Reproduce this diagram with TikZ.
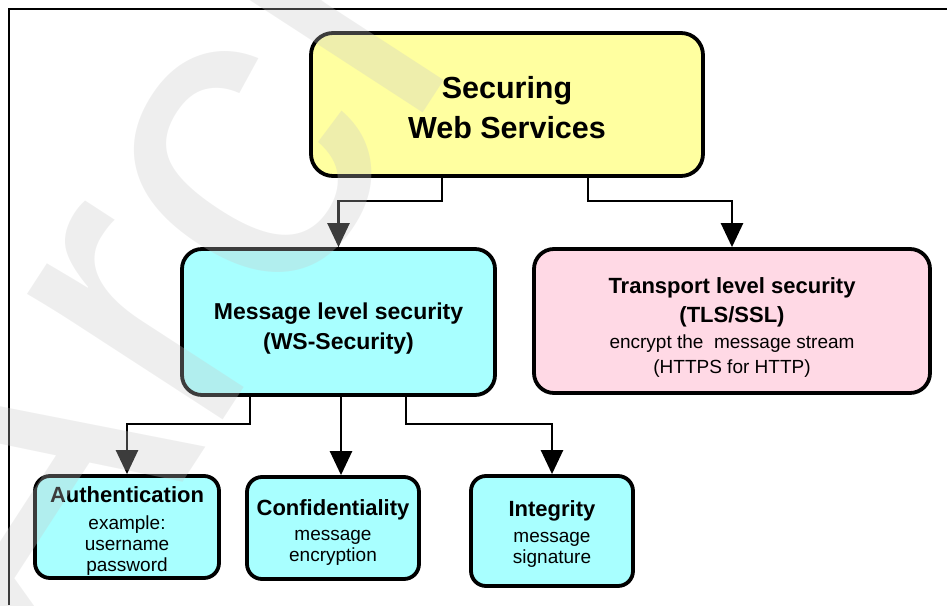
\documentclass[tikz,border=0pt]{standalone}
\usepackage{fontspec}
\setmainfont{Liberation Sans}
\usetikzlibrary{arrows.meta}

\definecolor{boxyellow}{RGB}{255,255,160}
\definecolor{boxcyan}{RGB}{168,255,255}
\definecolor{boxpink}{RGB}{255,217,229}
\definecolor{markgray}{RGB}{200,200,200}

% strut that pushes the first line of a box down
\newcommand{\padtop}[1]{\rule{0pt}{#1}}

\begin{document}
\begin{tikzpicture}[
    x=1pt, y=-1pt,
    box/.style={draw, line width=3.8pt, align=center, inner sep=0pt},
    link/.style={line width=2.5pt, -{Triangle[width=22pt,length=24pt]}},
    big/.style={font=\bfseries\fontsize{23}{30}\selectfont},
    small/.style={font=\fontsize{19}{21}\selectfont}
]
\useasboundingbox (0,0) rectangle (947,605);

% Frame, only the top and left edges are in view
\draw[line width=1.5pt] (9,605) -- (9,9) -- (947,9);

% Top box
\node[box, fill=boxyellow, rounded corners=22pt, minimum width=392pt, minimum height=143pt,
      font=\bfseries\fontsize{30.5}{40}\selectfont] (secure) at (507,104.5) {\padtop{28pt}Securing\\Web Services};

% Second row: the two levels
\node[box, big, fill=boxcyan, rounded corners=20pt, minimum width=313pt, minimum height=146pt]
    (msg) at (338.5,322) {\padtop{29pt}Message level security\\(WS-Security)};
\node[box, small, fill=boxpink, rounded corners=20pt, minimum width=396pt, minimum height=144pt]
    (trans) at (732,321) {{\bfseries\fontsize{22}{29}\selectfont\padtop{28pt}Transport level security}\\[8pt]
    {\bfseries\fontsize{22}{29}\selectfont (TLS/SSL)}\\[5pt]
    encrypt the\ \ message stream\\[4pt]
    (HTTPS for HTTP)};

% Third row: what message level security gives
\node[box, small, fill=boxcyan, rounded corners=15pt, minimum width=184pt, minimum height=102pt]
    (auth) at (127,527) {{\bfseries\fontsize{22}{27}\selectfont\padtop{24pt}Authentication}\\[6pt]
    example:\\username\\password};
\node[box, small, fill=boxcyan, rounded corners=15pt, minimum width=172pt, minimum height=102pt]
    (conf) at (333,528) {{\bfseries\fontsize{22}{27}\selectfont\padtop{24.5pt}Confidentiality}\\[4pt]
    message\\encryption};
\node[box, small, fill=boxcyan, rounded corners=15pt, minimum width=162pt, minimum height=110pt]
    (integ) at (552,531) {{\bfseries\fontsize{22}{27}\selectfont\padtop{22pt}Integrity}\\[5pt]
    message\\signature};

% Connectors from the top box
\draw[link] ([xshift=-65pt]secure.south) -- ++(0,23) -| (msg.north);
\draw[link] ([xshift=81pt]secure.south) -- ++(0,23) -| (trans.north);

% Connectors from the message level box
\coordinate (split) at ([xshift=2.5pt]msg.south);
\draw[link] ([xshift=-88.5pt]msg.south) -- ++(0,27) -| (auth.north);
\draw[link] (split) -- (split |- conf.north);
\draw[link] ([xshift=67.5pt]msg.south) -- ++(0,27) -| (integ.north);

% Watermark over everything
\begin{scope}
\clip (0,0) rectangle (947,605);
\node[rotate=57, anchor=base west, text=markgray, text opacity=0.3,
      font=\fontsize{440}{440}\selectfont] (mark) at (45,695) {Archived};
\end{scope}

\end{tikzpicture}
\end{document}
